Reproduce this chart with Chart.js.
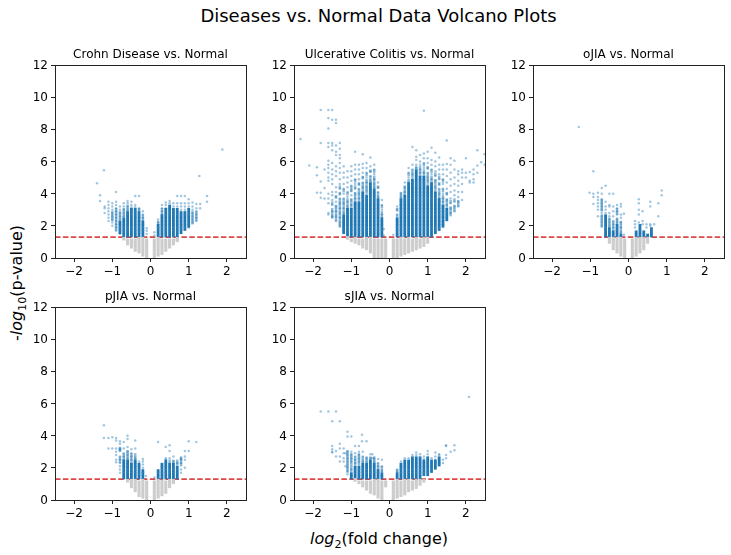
<!DOCTYPE html>
<html><head><meta charset="utf-8">
<script src="https://cdn.jsdelivr.net/npm/chart.js@4"></script>
<style>
html,body{margin:0;padding:0;background:#fff;width:731px;height:555px;overflow:hidden;font-family:"DejaVu Sans",sans-serif;color:#000}
.t{position:absolute;white-space:nowrap;transform:translate(-50%,-50%)}
.box{position:absolute;width:239px;height:234px}
sub{font-size:70%;line-height:0}
</style></head><body>
<div class="t" style="left:378.5px;top:15px;font-size:18px">Diseases vs. Normal Data Volcano Plots</div>
<div class="t" style="left:379px;top:538px;font-size:16px"><i>log</i><sub>2</sub>(fold change)</div>
<div class="t" style="left:16px;top:283px;font-size:16px;transform:translate(-50%,-50%) rotate(-90deg)">-<i>log</i><sub>10</sub>(p-value)</div>
<div class="box" style="left:15px;top:49px"><canvas id="c0"></canvas></div>
<div class="box" style="left:254px;top:49px"><canvas id="c1"></canvas></div>
<div class="box" style="left:493px;top:49px"><canvas id="c2"></canvas></div>
<div class="box" style="left:15px;top:290.5px"><canvas id="c3"></canvas></div>
<div class="box" style="left:254px;top:290.5px"><canvas id="c4"></canvas></div>
<script>
const titles=["Crohn Disease vs. Normal","Ulcerative Colitis vs. Normal","oJIA vs. Normal","pJIA vs. Normal","sJIA vs. Normal"];
const xTicks=[-2,-1,0,1,2];
const yTicks=[0,2,4,6,8,10,12];
const threshold=1.3;
// each column: [log2 fold change, -log10 p, -log10 p, ...]
const cdGray=[[-.7,1.2],[-.6,.9,1.1],[-.5,.7,.9,1.1],[-.4,.5,.7,.9,1.1],[-.3,.4,.6,.8,1,1.2],[-.2,.2,.4,.6,.8,1,1.2],[-.1,.1,.3,.5,.7,.9,1.1],[.1,.1,.3,.5,.7,.9,1.1],[.2,.2,.4,.6,.8,1,1.2],[.3,.3,.5,.7,.9,1.1],[.4,.5,.7,.9,1.1],[.5,.7,.9,1.1],[.6,.9,1.1],[.7,1.1,1.2]];
const cdDense=[[-.8,1.6,1.8,2,2.2],[-.7,1.4,1.6,1.8,2,2.2,2.4],[-.6,1.4,1.6,1.8,2,2.2,2.4,2.6,2.8],[-.5,1.4,1.6,1.8,2,2.2,2.4,2.6,2.8,3],[-.4,1.4,1.6,1.8,2,2.2,2.4,2.6,2.8,3],[-.3,1.4,1.6,1.8,2,2.2,2.4,2.6,2.8],[-.2,1.4,1.6,1.8,2,2.2],[.2,1.4,1.6,1.8,2],[.3,1.4,1.6,1.8,2,2.2,2.4,2.6],[.4,1.4,1.6,1.8,2,2.2,2.4,2.6,2.8,3],[.5,1.4,1.6,1.8,2,2.2,2.4,2.6,2.8,3,3.2],[.6,1.4,1.6,1.8,2,2.2,2.4,2.6,2.8,3],[.7,1.4,1.6,1.8,2,2.2,2.4,2.6,2.8,3],[.8,1.6,1.8,2,2.2,2.4,2.6,2.8],[.9,1.8,2,2.2,2.4,2.6,2.8],[1,2,2.2,2.4,2.6,2.8,3]];
const cdMid=[[-1,2.4,2.6,2.8],[-.9,1.8,2,2.2,2.4,2.6,2.8,3],[-.8,2.4,2.6,2.8],[-.7,2.6,2.8,3],[-.6,3,3.2],[-.3,3],[-.2,2.4,2.6],[.2,2.2],[.3,2.8,3],[1.1,2.2,2.4,2.6,2.8],[1.2,2.4,2.6,2.8]];
const cdSparse=[[-1.4,4.65],[-1.32,3.9,3.55],[-1.22,5.45],[-1.2,3.2,3.1,2.8],[-1.1,3.5,3.3,3.1,2.9,2.7,2.5,2.3],[-1,3.4,3.2,3,2.8,2.6,2.4,2.2,2],[-.9,4.1,3.5,3.3,3.1,2.9,2.7,2.5,2.3,2.1,1.9,1.7],[-.8,3.2,3,2.8,2.6,2.4,2.2,1.5],[-.7,3.4,3.2,3,2.8,2.6],[-.6,3.55,3.4,3.2,3],[-.5,3.5,3.3,3.15],[-.4,3.85,3.3,3.15],[-.3,3.85,3.1,3],[-.2,2.9,2.7,2.5,2.3],[-.1,1.85,1.7,1.5],[.1,1.6,1.4],[.2,2.4,2.2],[.3,3.3,3.1,2.9,2.7],[.4,3.45,3.3,3.1],[.5,3.55,3.4],[.6,3.4,3.2],[.7,3.85,3.4,3.2],[.8,3.85,3.4,3.2,3],[.9,3.85,3.4,3.2,3],[1,3.65,3.4,3.2,1.9],[1.1,3.45,3.2,3,2.8,2.6,2.4,2.2],[1.2,3.35,3.1,2.9,2.7,2.5,2.3],[1.28,5.1],[1.3,3.35,3.1],[1.48,3.85,3.5],[1.88,6.75]];
const ucGray=[[-1.1,1.25],[-1,1.1],[-.9,1,1.2],[-.8,.9,1.1],[-.7,.7,.9,1.1],[-.6,.6,.8,1,1.2],[-.5,.4,.6,.8,1,1.2],[-.4,.1,.3,.5,.7,.9,1.1],[-.3,.1,.3,.5,.7,.9,1.1],[-.2,.1,.3,.5,.7,.9,1.1],[-.1,.1,.3,.5,.7,.9,1.1],[.1,.1,.3,.5,.7,.9,1.1],[.2,.1,.3,.5,.7,.9,1.1],[.3,.2,.4,.6,.8,1,1.2],[.4,.3,.5,.7,.9,1.1],[.5,.4,.6,.8,1,1.2],[.6,.5,.7,.9,1.1],[.7,.6,.8,1,1.2],[.8,.7,.9,1.1],[.9,.8,1,1.2],[1,1,1.2]];
const ucDense=[[-1.2,1.6,1.8,2,2.2,2.4,2.6],[-1.1,1.4,1.6,1.8,2,2.2,2.4,2.6,2.8,3],[-1,1.4,1.6,1.8,2,2.2,2.4,2.6,2.8,3],[-.9,1.4,1.6,1.8,2,2.2,2.4,2.6,2.8,3,3.2,3.4],[-.8,1.4,1.6,1.8,2,2.2,2.4,2.6,2.8,3,3.2,3.4],[-.7,1.4,1.6,1.8,2,2.2,2.4,2.6,2.8,3,3.2,3.4,3.6,3.8,4],[-.6,1.4,1.6,1.8,2,2.2,2.4,2.6,2.8,3,3.2,3.4,3.6,3.8],[-.5,1.4,1.6,1.8,2,2.2,2.4,2.6,2.8,3,3.2,3.4,3.6,3.8,4,4.2,4.4,4.6],[-.4,1.4,1.6,1.8,2,2.2,2.4,2.6,2.8,3,3.2,3.4,3.6,3.8,4,4.2],[-.3,1.4,1.6,1.8,2,2.2,2.4,2.6,2.8,3,3.2,3.4,3.6],[-.2,1.4,1.6,1.8,2,2.2,2.4],[.2,1.4,1.6,1.8,2,2.2,2.4],[.3,1.4,1.6,1.8,2,2.2,2.4,2.6,2.8,3,3.2,3.4,3.6],[.4,1.4,1.6,1.8,2,2.2,2.4,2.6,2.8,3,3.2,3.4,3.6,3.8],[.5,1.4,1.6,1.8,2,2.2,2.4,2.6,2.8,3,3.2,3.4,3.6,3.8,4,4.2,4.4,4.6],[.6,1.4,1.6,1.8,2,2.2,2.4,2.6,2.8,3,3.2,3.4,3.6,3.8,4,4.2,4.4,4.6,4.8],[.7,1.4,1.6,1.8,2,2.2,2.4,2.6,2.8,3,3.2,3.4,3.6,3.8,4,4.2,4.4,4.6,4.8,5,5.2,5.4],[.8,1.4,1.6,1.8,2,2.2,2.4,2.6,2.8,3,3.2,3.4,3.6,3.8,4,4.2,4.4,4.6,4.8,5],[.9,1.4,1.6,1.8,2,2.2,2.4,2.6,2.8,3,3.2,3.4,3.6,3.8,4,4.2,4.4,4.6,4.8,5],[1,1.4,1.6,1.8,2,2.2,2.4,2.6,2.8,3,3.2,3.4,3.6,3.8,4,4.2,4.4],[1.1,1.4,1.6,1.8,2,2.2,2.4,2.6,2.8,3,3.2,3.4,3.6,3.8,4,4.2,4.4,4.6],[1.2,1.6,1.8,2,2.2,2.4,2.6,2.8,3,3.2,3.4,3.6,3.8,4],[1.3,1.8,2,2.2,2.4,2.6,2.8,3,3.2,3.4,3.6],[1.4,2,2.2,2.4,2.6,2.8,3,3.2],[1.5,2.4,2.6,2.8,3]];
const ucMid=[[-1.5,2.6,2.8,3,3.4],[-1.4,2.4,2.6,2.8,3,3.2,3.8],[-1.3,2,2.2,2.4,2.6,2.8,3,3.2,3.4,3.6,4,4.4],[-1.2,2.8,3,3.2,3.4,3.6,4.2],[-1.1,3.2,3.4,3.6,4],[-1,3.2,3.4,3.6,4.2,4.4],[-.9,3.6,3.8,4,4.4,4.8],[-.8,3.6,3.8,4,4.2,4.6],[-.7,4.2,4.4,4.6,5],[-.6,4,4.2,4.4,4.6,4.8,5.2],[-.5,4.8,5,5.4],[-.4,4.4,4.6,4.8,5,5.4],[-.3,3.8,4,4.4],[-.2,2.6,2.8,3.2],[.2,2.6,3],[.3,3.8,4],[.4,4,4.2,4.4],[.5,4.8,5.2],[.6,5,5.2,5.4],[.7,5.6],[.8,5.2,5.4,5.6],[.9,5.2,5.4,5.8],[1,4.6,4.8,5,5.2,5.6],[1.1,4.8,5,5.4],[1.2,4.2,4.4,4.6,4.8,5.2],[1.3,3.8,4,4.2,4.6,5],[1.4,3.4,3.6,3.8,4.2,4.8],[1.5,3.2,3.4,3.6,4],[1.6,2.7,2.9,3.1,3.5],[1.7,3,3.2,3.6],[1.8,3.3,3.5]];
const ucSparse=[[-2.33,7.4],[-2.1,5.75],[-1.9,5.65,5.15,4.05],[-1.8,9.2,7.15,4.75,4.05,3.75],[-1.7,5.5,4.35,3.7],[-1.6,9.2,8.7,8.05,7.15,6.9,6.05,5.8,5.6,5.3,5,4.8,4,3.7,3.4,2.8,2.7],[-1.5,9.2,8.6,7.15,7,6.7,5.9,5.5,5.2,4.9,4.6,4.1,3.9,3.6,3.3,2.9,2.6,2.5],[-1.4,8.6,8.4,7,6.6,6.4,5.7,5.4,5.1,4.4,4.1,3.8,3.5,3.2,2.9,2.6,2.3],[-1.3,7.15,6.8,6.4,6.2,5.9,5.6,5.3,4.9,4.6,4.3,4,3.7,3.4,3.1,2.8,2.5,2.2,2],[-1.2,5.7,5.3,5,4.6,4.3,4,3.7,3.4,3.1,2.8,2.5,2.2,1.9,1.7],[-1.1,5.4,5,4.7,4.4,4.1,3.8,3.5,3.2,2.9,2.6],[-1,5.7,5.4,5.1,4.8,4.5,4.2,3.9,3.6,3.3,3],[-.9,6.6,5.8,5.5,5.2,4.9,4.6,4.3,4,3.7,3.4,3.2],[-.8,5.8,5.5,5.2,4.9,4.6,4.3,4,3.7],[-.7,6.45,5.85,5.6,5.3,5,4.7,4.4,4.1,3.8],[-.6,5.9,5.6,5.3,5,4.7,4.4,4.2],[-.5,6.25,5.7,5.4,5.1,4.8,4.6],[-.4,5.8,5.5,5.2,4.9,4.6,4.4],[-.3,4.7,4.4,4.1,3.8,3.6],[-.2,3.6,3.3,3,2.7,2.5],[-.15,1.8,1.4],[.1,1.45],[.2,3.2,3,2.7,2.4],[.3,4,3.8,3.6],[.4,4.7,4.4,4.1,3.9],[.5,5.6,5.3,5,4.7,4.5],[.6,6.9,5.8,5.5,5.2],[.7,6.7,6.3,6.1,5.8,5.6],[.8,6.4,6,5.8,5.5,5.3],[.9,9.15,6.5,6.2,5.9,5.6,5.3,5,4.8],[1,6.6,6.2,5.9,5.6,5.3,5,4.8],[1.1,6.85,6.1,5.8,5.5,5.2,4.9,4.6,4.3],[1.2,6.55,6,5.7,5.4,5.1,4.8,4.4,4.1],[1.3,6.25,5.8,5.5,5.2,4.9,4.6,4.3,4,3.7],[1.4,5.8,5.5,5.2,4.9,4.6,4.3,4,3.7,3.5,3.2,2.9,2.6,2.3,2.1],[1.5,7.3,5.85,5.5,5.1,4.7,4.3,4,3.6,3.3,3,2.7,2.5],[1.6,6.2,5.8,5.3,4.9,4.5,4.1,3.7,3.4,3.1,2.8],[1.7,6.05,5.5,5,4.6,4.2,3.9,3.5,3.2,2.9],[1.8,5.4,5.2,4.8,4.5,4.1,3.8,3.5,3.2],[1.9,5.5,5.3,5,4.6,4.1,3.6],[2,6.2,5.3,5],[2.1,5.35,4.8,4.7],[2.2,5.5,5.2,4.9,4.7],[2.3,6.7,5.75,5.3],[2.4,5.95],[2.49,6.45,5.8]];
const ojGray=[[-.5,1,1.2],[-.4,.6,.8,1,1.2],[-.3,.4,.6,.8,1,1.2],[-.2,.2,.4,.6,.8,1,1.2],[-.1,.1,.3,.5,.7,.9,1.1],[.1,.1,.3,.5,.7,.9,1.1],[.2,.2,.4,.6,.8,1,1.2],[.3,.4,.6,.8,1,1.2],[.4,.6,.8,1,1.2],[.5,1,1.2]];
const ojDense=[[-.6,1.4,1.6,1.8,2,2.2,2.4,2.6],[-.5,1.4,1.6,1.8],[-.4,1.4,1.6],[-.3,1.4,1.6,1.8,2],[-.2,1.4],[.2,1.4,1.6],[.3,1.4,1.6,1.8,2],[.4,1.4,1.6],[.5,1.4],[.6,1.4,1.6,1.8]];
const ojMid=[[-.7,2,2.2,2.4,2.6,3,3.2,3.4,3.6],[-.5,2,2.2,2.4],[-.4,1.8,2,2.2],[-.3,2.2,2.4,2.8,3],[-.2,1.6,1.8,2,2.2]];
const ojSparse=[[-1.3,8.15],[-1.02,4.05],[-.92,5.4,4,3.8,3.35],[-.8,4.05,3.8,3.6,3.4,3.2,3,2.6],[-.7,4.35,4,3.6,3.4,3.2,3,2.8,2.6,2.4,2.2,2],[-.6,4.5,3.5,3.2,3,2.8],[-.5,4,3.3,3.2,2.8,2.6,2.4,2.2,2],[-.4,4,3.2,2.9,2.6,2.3,2.1,1.9],[-.3,3.3,3.1,2.9,2.7,2.4,2.2],[-.2,3.35,3.2,2.7,2.5,2.2,1.9,1.6],[-.12,2.75,1.45],[.17,2.3,2.1,1.9],[.27,3.65,3.4,3,2.7,2.2],[.37,2.9,2.3,2.1],[.47,2.1,1.9],[.57,3.5,3.2,2.1,2],[.67,2.1],[.78,3.4,2.6],[.87,4.2,3.9]];
const pjGray=[[-.6,1.2],[-.5,.85,1.05,1.2],[-.4,.6,.8,1,1.2],[-.3,.3,.5,.7,.9,1.1],[-.2,.2,.4,.6,.8,1,1.2],[-.1,.1,.3,.5,.7,.9,1.1],[.1,.1,.3,.5,.7,.9,1.1],[.2,.2,.4,.6,.8,1,1.2],[.3,.35,.55,.75,.95,1.15],[.4,.5,.7,.9,1.1],[.5,.85,1.05,1.2],[.6,1.1,1.2]];
const pjDense=[[-.7,1.4,1.6,1.8,2,2.2,2.4],[-.6,1.4,1.6,1.8,2,2.2,2.4],[-.5,1.4,1.6,1.8,2,2.2],[-.4,1.4,1.6,1.8,2,2.2,2.4],[-.3,1.4,1.6,1.8,2,2.2],[-.2,1.4,1.6,1.8],[.2,1.4,1.6,1.8],[.3,1.4,1.6,1.8,2,2.2],[.4,1.4,1.6,1.8,2,2.2,2.4],[.5,1.4,1.6,1.8,2,2.2],[.6,1.4,1.6,1.8,2,2.2],[.7,1.4,1.6,1.8,2]];
const pjMid=[[-.8,2.4,2.6,3.1,3.2],[-.7,2.6,2.8],[-.6,2.6,2.8,3],[-.5,2.4,2.6,2.8],[-.4,2.6,2.8],[.5,2.4],[.6,2.4],[.7,2.2,2.4],[.8,2.2,2.4,2.6]];
const pjSparse=[[-1.22,4.65,3.85],[-1.1,3.85,3.2],[-1,3.9,3.2],[-.9,3.85,3.7,3.2,3,2.8,2.5,2.35],[-.8,3.65,3.5,3.2,3.1,2.7,2.5,2.3,2.1,1.9,1.7],[-.7,3.6,3.2,2.9,2.7,2.5],[-.6,4,3.8,3.3,3,2.8,2.6],[-.5,3.15,2.9,2.7,2.5],[-.4,3.7,3.2,2.6],[-.3,2.4],[-.2,2.55,2.4,2.2,2],[-.12,1.5],[.1,1.4],[.2,3.6],[.4,3.3,2.6,2.5],[.5,3.4,3.05,2.6],[.6,2.7,2.4],[.7,2.3],[.8,2.6,2.5,2.3,1.9,1.7],[.9,3.05,2.7,2.5,2],[1,3.65,3.05],[1.2,3.6]];
const sjGray=[[-.9,1.25],[-.8,1.1],[-.7,.9,1.1],[-.6,.7,.9,1.1],[-.5,.5,.7,.9,1.1],[-.4,.4,.6,.8,1,1.2],[-.3,.2,.4,.6,.8,1,1.2],[-.2,.1,.3,.5,.7,.9,1.1],[-.1,.9,1.1],[.1,.1,.3,.5,.7,.9,1.1],[.2,.2,.4,.6,.8,1,1.2],[.3,.3,.5,.7,.9,1.1],[.4,.4,.6,.8,1,1.2],[.5,.6,.8,1,1.2],[.6,.7,.9,1.1],[.7,.8,1,1.2],[.8,1,1.2],[.9,1.2]];
const sjDense=[[-1,1.4,1.6],[-.9,1.4,1.6,1.8,2],[-.8,1.4,1.6,1.8,2],[-.7,1.4,1.6,1.8,2,2.2],[-.6,1.4,1.6,1.8,2,2.2],[-.5,1.4,1.6,1.8,2,2.2,2.4],[-.4,1.4,1.6,1.8,2,2.2],[-.3,1.4,1.6,1.8],[-.2,1.4,1.6],[.2,1.4,1.6],[.3,1.4,1.6,1.8,2,2.2],[.4,1.4,1.6,1.8,2,2.2,2.4],[.5,1.4,1.6,1.8,2,2.2,2.4],[.6,1.4,1.6,1.8,2,2.2,2.4,2.6],[.7,1.4,1.6,1.8,2,2.2,2.4,2.6],[.8,1.4,1.6,1.8,2,2.2,2.4,2.6],[.9,1.6,1.8,2,2.2,2.4],[1,1.6,1.8,2,2.2,2.4,2.6],[1.1,1.8,2,2.2,2.4],[1.2,2,2.2,2.4],[1.3,2.2,2.4,2.6]];
const sjMid=[[-1.1,1.8,2,2.2,2.4,2.6,2.8,3],[-1,1.8,2,2.2,2.4,2.6,2.8],[-.9,2.2,2.4,2.6],[-.8,2.2,2.4,2.6,2.8],[-.7,2.4,2.6],[-.6,2.4,2.6],[-.5,2.6],[-.4,2.4,2.6],[-.3,2,2.2],[-.2,1.8,2],[.2,1.8]];
const sjSparse=[[-1.8,5.5],[-1.6,5.5],[-1.5,4.9,3.35,3.15,3,2.95],[-1.4,5.5,3.05,2.7],[-1.3,4.9,3.5,3.2,2.7,2.4],[-1.2,3.2,2.9,2.6,2.4],[-1.15,2.9,2.1],[-1.1,4.25,3.95,3,2.8,2.6,2.4,2.2,2,1.8,1.6],[-1,3.95,3,2.8,2.6,2.4,1.9,1.5],[-.9,3.35,2.9,2.7,2.5,2.3],[-.8,3.35,3,2.8,2.6,2.4],[-.72,4.05,3.65],[-.7,3,2.7,2.4],[-.6,3.65,2.6,2.4],[-.5,2.85,2.6],[-.45,2.85,2.6],[-.4,2.6,2.4],[-.3,2.55,2.3,2.1,1.9],[-.2,2.5,2.1,1.8],[.2,1.9,1.75],[.3,2.4],[.4,2.6],[.5,2.6],[.6,2.8],[.7,2.95,2.8],[.8,2.85],[.9,2.7,2.55],[1,3.05,2.85],[1.1,2.6],[1.2,2.95,2.7,2.5],[1.3,2.85,2.8],[1.4,2.5,2.3],[1.48,3.4,3.35,2.8,2.6],[1.6,3],[1.7,3.4,3.1],[2.08,6.4]];
const panels=[[cdGray,cdDense,cdMid,cdSparse],[ucGray,ucDense,ucMid,ucSparse],[ojGray,ojDense,ojMid,ojSparse],[pjGray,pjDense,pjMid,pjSparse],[sjGray,sjDense,sjMid,sjSparse]];
const pts=c=>c.flatMap(([x,...ys])=>ys.map(y=>({x,y})));
const frame={id:'frame',afterDraw(ch){const a=ch.chartArea,g=ch.ctx;g.save();g.strokeStyle='#222';g.lineWidth=1;g.strokeRect(Math.round(a.left)+.5,Math.round(a.top)+.5,Math.round(a.width),Math.round(a.height));g.restore();}};
const strip=(data,color,width)=>({data,pointStyle:'line',rotation:90,pointRadius:1.8,pointBorderWidth:width,pointBorderColor:color,pointBackgroundColor:color});
panels.forEach(([gray,dense,mid,sparse],i)=>{
 new Chart(document.getElementById('c'+i),{type:'scatter',plugins:[frame],data:{datasets:[
  strip(pts(gray),'#cccccc',3.1),
  {data:pts(sparse),pointRadius:1.25,backgroundColor:'rgba(31,119,180,.42)',borderWidth:0},
  strip(pts(mid),'rgba(31,119,180,.5)',2.5),
  strip(pts(dense),'#1f77b4',2.8),
  {data:[{x:-2.5,y:threshold},{x:2.5,y:threshold}],showLine:true,pointRadius:0,borderColor:'rgba(214,39,40,.85)',borderWidth:1.6,borderDash:[5.5,2.4]}
 ]},options:{responsive:true,maintainAspectRatio:false,animation:false,
  layout:{padding:{right:8}},
  plugins:{legend:{display:false},tooltip:{enabled:false},title:{display:true,fullSize:false,text:titles[i],color:'#000',font:{family:'"DejaVu Sans"',size:12,weight:'normal',lineHeight:1},padding:{top:0,bottom:4}}},
  scales:{
   x:{type:'linear',min:-2.5,max:2.5,afterBuildTicks:s=>{s.ticks=xTicks.map(value=>({value}))},afterFit:s=>{s.height=25},
      grid:{drawOnChartArea:false,tickLength:4,tickColor:'#222'},border:{color:'#222'},
      ticks:{color:'#000',padding:3,maxRotation:0,autoSkip:false,font:{family:'"DejaVu Sans"',size:12},callback:v=>String(v).replace('-','\u2212')}},
   y:{type:'linear',min:0,max:12,afterBuildTicks:s=>{s.ticks=yTicks.map(value=>({value}))},afterFit:s=>{s.width=40},
      grid:{drawOnChartArea:false,tickLength:4,tickColor:'#222'},border:{color:'#222'},
      ticks:{color:'#000',padding:3,labelOffset:1,autoSkip:false,font:{family:'"DejaVu Sans"',size:12}}}
  }}});
});
</script></body></html>
